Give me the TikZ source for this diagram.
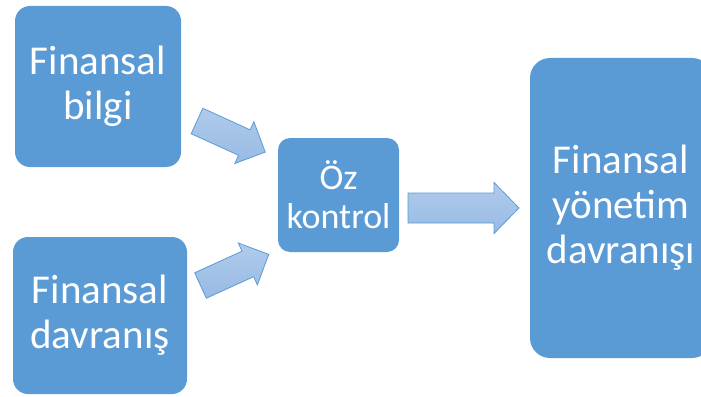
\documentclass[tikz,border=0pt]{standalone}
\usepackage{fontspec}
\setmainfont{Carlito}
\definecolor{boxblue}{RGB}{91,155,213}
\definecolor{arrowtop}{RGB}{176,203,236}
\definecolor{arrowbottom}{RGB}{152,186,228}
\tikzset{
  box/.style={fill=boxblue, rounded corners=15, text=white, align=center, inner sep=0pt,
    font=\fontsize{41}{45}\selectfont},
  blockarrow/.style={draw=boxblue, line width=0.8pt, top color=arrowtop, bottom color=arrowbottom}
}
\begin{document}
\begin{tikzpicture}[x=1pt, y=-1pt]
  \useasboundingbox (0,0) rectangle (701,396);
  \clip (0,0) rectangle (701,396);
  % boxes
  \node [box, minimum width=166, minimum height=161] (bilgi) at (98,86.5) {Finansal\\bilgi};
  \node [box, minimum width=174, minimum height=157] (davranis) at (100,315.5) {Finansal\\davran\i{}ş};
  \node [box, rounded corners=12, minimum width=121, minimum height=114,
    font=\fontsize{36}{39}\selectfont] (ozkontrol) at (338.5,195) {Öz\\kontrol};
  \node [box, rounded corners=20, minimum width=182, minimum height=300] (yonetim) at (621,208)
    {Finansal\\yönetim\\davran\i{}ş\i{}};
  % block arrows
  \begin{scope}[shift={(197,121)}, rotate=-24.5]
    \draw [blockarrow] (0,-14) -- (52,-14) -- (52,-23) -- (75,0) -- (52,23) -- (52,14) -- (0,14) -- cycle;
  \end{scope}
  \begin{scope}[shift={(200.5,285.5)}, rotate=24.5]
    \draw [blockarrow] (0,-14) -- (52,-14) -- (52,-23) -- (75,0) -- (52,23) -- (52,14) -- (0,14) -- cycle;
  \end{scope}
  \begin{scope}[shift={(408,208)}]
    \draw [blockarrow] (0,-15) -- (86,-15) -- (86,-25.5) -- (111,0) -- (86,25.5) -- (86,15) -- (0,15) -- cycle;
  \end{scope}
\end{tikzpicture}
\end{document}
